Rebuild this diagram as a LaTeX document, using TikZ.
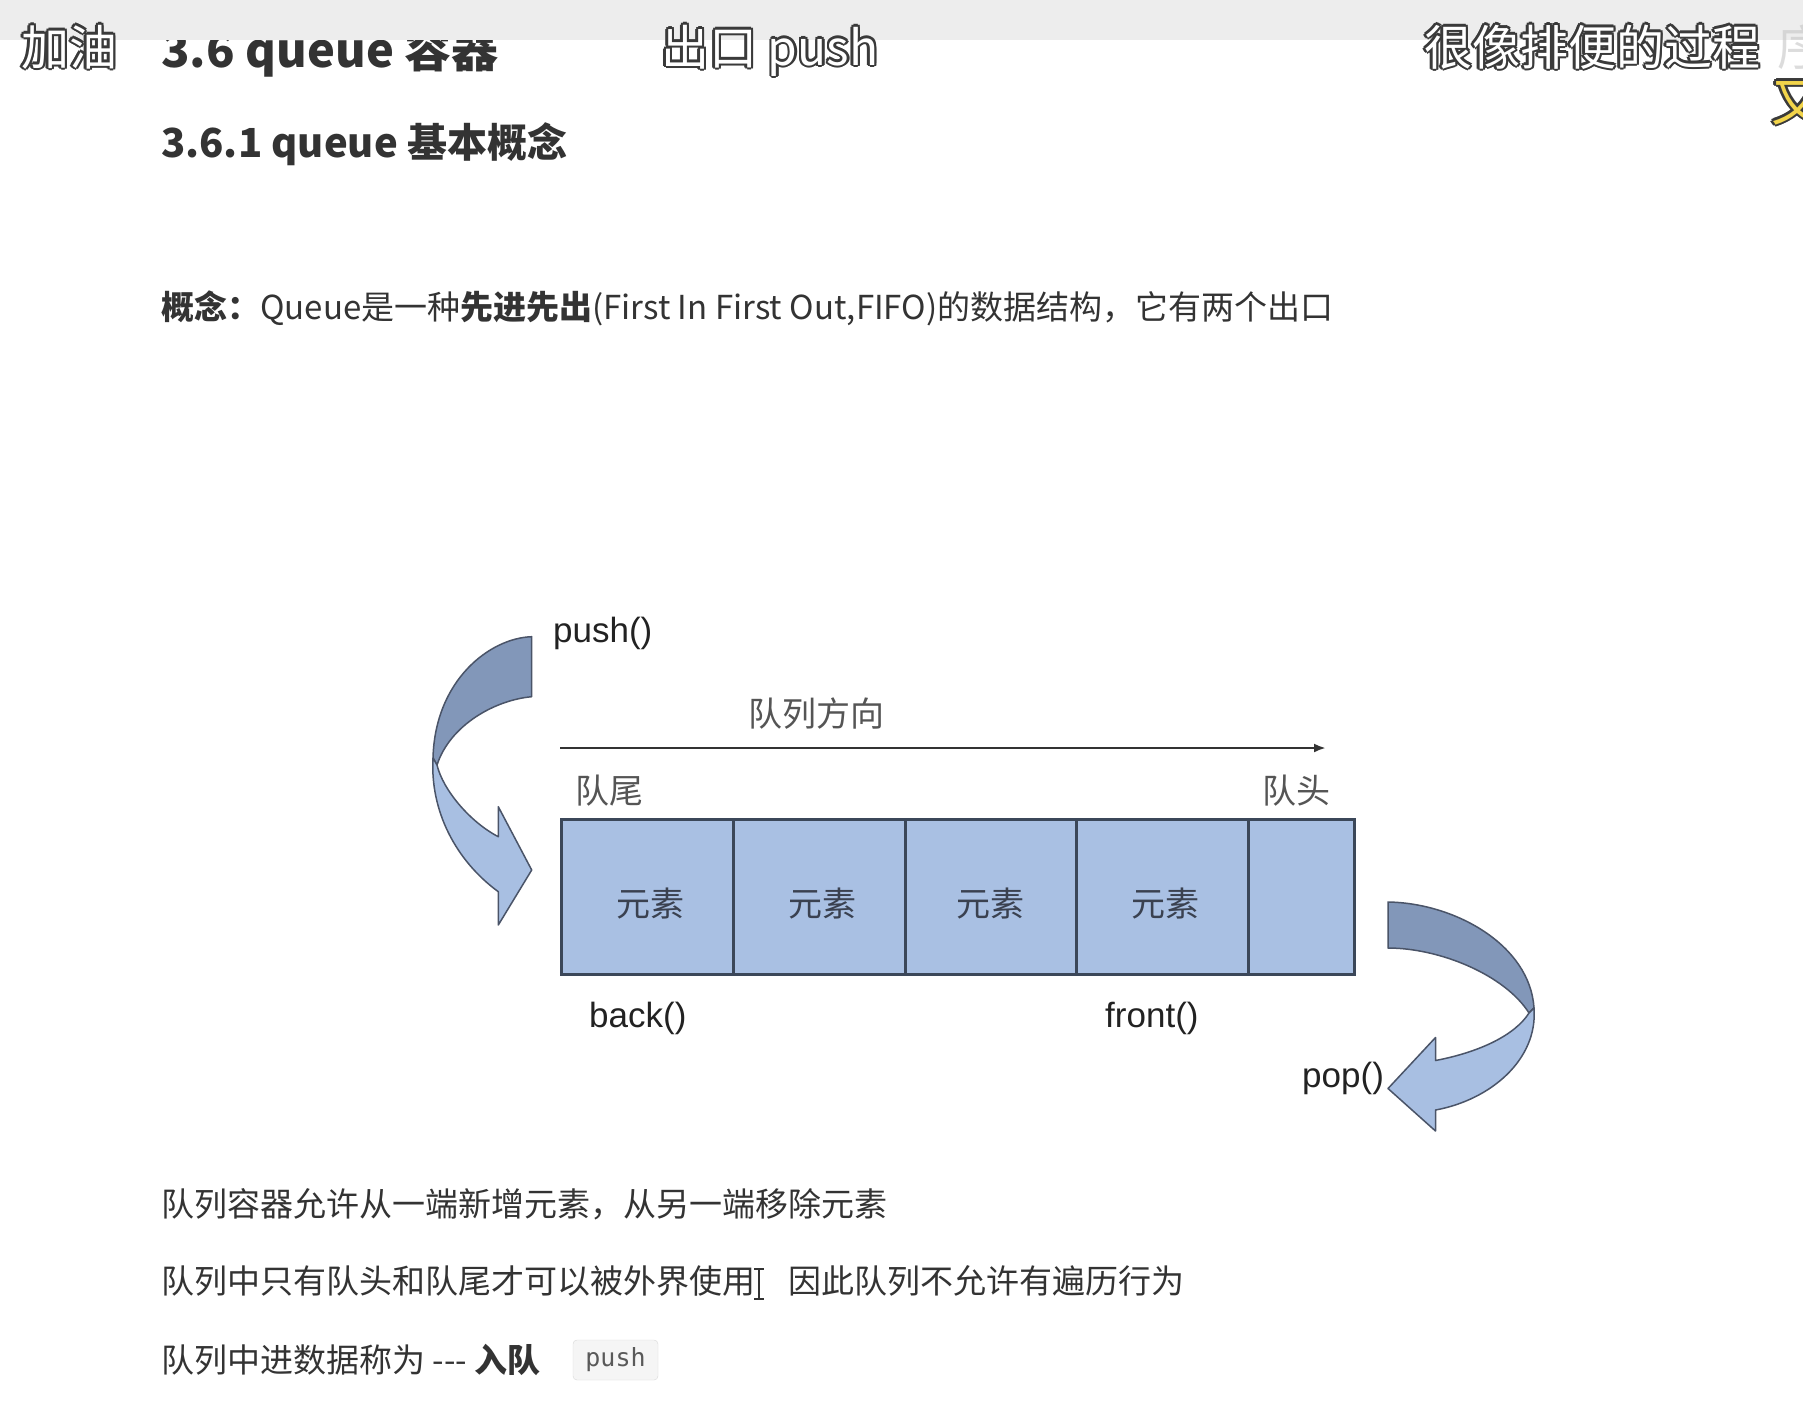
\documentclass[tikz,border=0pt]{standalone}
\usepackage{fontspec}
\setmainfont{Noto Sans CJK SC}
\newfontfamily\arialf{Liberation Sans}
\newfontfamily\monof{DejaVu Sans Mono}
\usetikzlibrary{arrows.meta,calc}
\definecolor{boxfill}{HTML}{A9C0E3}
\definecolor{boxline}{HTML}{3B4759}
\definecolor{arrdark}{HTML}{8297B9}
\definecolor{arrlight}{HTML}{A8BFE2}
\definecolor{arrline}{HTML}{4A5468}
\definecolor{bodycol}{HTML}{333333}
\definecolor{labcol}{HTML}{555555}
\definecolor{celltxt}{HTML}{3A4150}
\definecolor{latcol}{HTML}{222222}
\definecolor{captedge}{HTML}{3A3A3A}
\definecolor{barcol}{HTML}{EDEDED}
\definecolor{capyellow}{HTML}{F2D44A}
\tikzset{
  bodytxt/.style={anchor=base west, inner sep=0pt, text=bodycol, font=\fontsize{33}{40}\selectfont},
  headtxt/.style={anchor=base west, inner sep=0pt, text=bodycol, font=\fontsize{40}{48}\selectfont\bfseries},
  cjklab/.style={anchor=base west, inner sep=0pt, text=labcol, font=\fontsize{34}{40}\selectfont},
  latlab/.style={anchor=base west, inner sep=0pt, text=latcol, font=\arialf\fontsize{35}{40}\selectfont},
  cell/.style={draw=boxline, line width=2.5pt, fill=boxfill, minimum height=155pt, inner sep=0pt, anchor=north west},
  celllab/.style={inner sep=0pt, text=celltxt, font=\fontsize{34}{40}\selectfont},
  captstyle/.style={anchor=base west, inner sep=0pt, font=\fontsize{48}{56}\selectfont},
  arrpart/.style={draw=arrline, line width=1.5pt, line join=round},
}
\newcommand{\capt}[5]{%
  \foreach \dx/\dy in {-2.6/0,2.6/0,0/-2.6,0/2.6,-1.9/-1.9,1.9/-1.9,-1.9/1.9,1.9/1.9}{%
    \node[captstyle,text=captedge,#5] at ($(#1,#2)+(\dx,\dy)$) {#3};}%
  \node[captstyle,text=#4,#5] at (#1,#2) {#3};}
\begin{document}
\begin{tikzpicture}[x=1pt,y=-1pt]
\useasboundingbox (0,0) rectangle (1803,1401);
\fill[white] (0,0) rectangle (1803,1401);

% headings
\node[headtxt, font=\fontsize{47}{54}\selectfont\bfseries] (h1) at (161,67) {3.6 queue 容器};
\fill[barcol] (0,0) rectangle (1803,40);
\node[headtxt] (h2) at (161,157) {3.6.1 queue 基本概念};

% concept line
\node[bodytxt] (concept) at (161,319.5) {\textbf{概念：}Queue是一种\textbf{先进先出}(First In First Out,FIFO)的数据结构，它有两个出口};

% captions
\capt{21}{65}{加油}{white}{}
\capt{661}{65}{出口 push}{white}{}
\capt{1424}{65}{很像排便的过程}{white}{}
\node[captstyle,text=gray!45,opacity=0.6] (fade) at (1777,65) {序};
\capt{1771}{121}{又}{capyellow}{font=\fontsize{52}{60}\selectfont}

% queue cells
\node[cell, minimum width=172pt] (c1) at (560,818) {};
\node[cell, minimum width=172pt] (c2) at (732,818) {};
\node[cell, minimum width=171pt] (c3) at (904,818) {};
\node[cell, minimum width=172pt] (c4) at (1075,818) {};
\node[cell, minimum width=106pt] (c5) at (1247,818) {};
\node[celllab] (e1) at ($(c1.center)+(3,7)$) {元素};
\node[celllab] (e2) at ($(c2.center)+(3,7)$) {元素};
\node[celllab] (e3) at ($(c3.center)+(0,7)$) {元素};
\node[celllab] (e4) at ($(c4.center)+(3,7)$) {元素};

% direction arrow
\coordinate (dirS) at (560,748);
\coordinate (dirE) at (1326,748);
\draw[line width=2.5pt, draw=bodycol, -{Latex[length=12pt,width=9pt]}] (dirS) -- (dirE);
\node[cjklab] (dirlab) at (748,726) {队列方向};
\node[cjklab] (tail) at (575,803) {队尾};
\node[cjklab] (head) at (1262,803) {队头};

% function labels
\node[latlab] (pushlab) at (553,642) {push()};
\node[latlab] (backlab) at (589,1027) {back()};
\node[latlab] (frontlab) at (1105,1027) {front()};
\node[latlab] (poplab) at (1302,1087) {pop()};

% push curved arrow
\filldraw[arrpart, fill=arrdark] (531.7,636.7) .. controls (490,638) and (435,680) .. (433,758)
  -- (437,765) .. controls (450,725) and (495,700) .. (531.7,696.7) -- cycle;
\filldraw[arrpart, fill=arrlight] (433,758) .. controls (430,810) and (455,860) .. (498.3,891.7)
  -- (498.3,925) -- (531.7,870) -- (498.3,806.7) -- (498.3,836.7)
  .. controls (470,822) and (443,790) .. (437,765) -- cycle;

% pop curved arrow
\filldraw[arrpart, fill=arrdark] (1388,902) .. controls (1455,903) and (1530,945) .. (1534,1008)
  -- (1529,1013) .. controls (1505,975) and (1440,948) .. (1388,948) -- cycle;
\filldraw[arrpart, fill=arrlight] (1534,1008) .. controls (1538,1060) and (1490,1100) .. (1435.5,1110)
  -- (1435.5,1131) -- (1388,1088.5) -- (1435.5,1037.5) -- (1435.5,1060.5)
  .. controls (1480,1052) and (1515,1035) .. (1529,1013) -- cycle;

% bottom text lines
\node[bodytxt] (l1) at (161,1216.5) {队列容器允许从一端新增元素，从另一端移除元素};
\node[bodytxt] (l2) at (161,1293.5) {队列中只有队头和队尾才可以被外界使用　因此队列不允许有遍历行为};
\node[bodytxt] (l3) at (161,1372.5) {队列中进数据称为 -{}-{}- \textbf{入队}};
\node[draw=black!15, fill=black!4, rounded corners=4pt, minimum width=85pt, minimum height=40pt, inner sep=0pt,
  text=black!65, font=\monof\fontsize{25}{30}\selectfont] (code) at (615.5,1360) {push};

% text cursor
\draw[line width=2pt, draw=bodycol] (759,1270) -- (759,1298);
\draw[line width=2pt, draw=bodycol] (754,1269) -- (764,1269) (754,1299) -- (764,1299);
\end{tikzpicture}
\end{document}
